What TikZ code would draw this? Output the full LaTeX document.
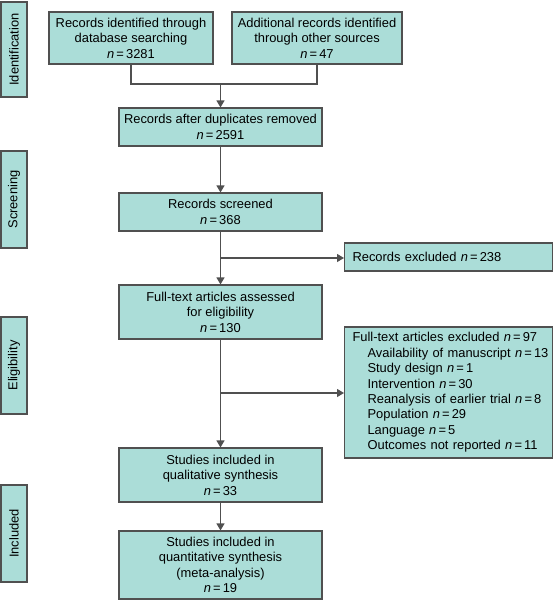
\documentclass[tikz,border=0pt]{standalone}
\usepackage{fontspec}
\setmainfont{Liberation Sans}
\usetikzlibrary{positioning}
\usetikzlibrary{arrows.meta}
\definecolor{boxfill}{RGB}{171,221,216}
\definecolor{boxline}{RGB}{80,80,80}
\newcommand{\ncount}[1]{\textit{n}\,=\,#1}
\begin{document}
\begin{tikzpicture}
	[	x=1pt, y=-1pt,						% 1 px = 1 pt, ось y вниз
		font=\fontsize{12.9}{15.4}\selectfont,
		box/.style={draw=boxline, line width=1.1pt, fill=boxfill, align=center, inner sep=0pt},
		side/.style={box, rotate=90, minimum height=26pt},
		arr/.style={draw=boxline, line width=1.1pt, -{Triangle[length=7pt,width=8pt]}},
		ln/.style={draw=boxline, line width=1.1pt}	]
	\useasboundingbox (0,0) rectangle (553,600);				% поля как у оригинала
	% этапы слева
	\node[side, minimum width=95pt] (sid) at (14,49.5) {Identification};
	\node[side, minimum width=97pt] (sscr) at (14,199.5) {Screening};
	\node[side, minimum width=97pt] (selig) at (14,365.5) {Eligibility};
	\node[side, minimum width=97pt] (sinc) at (14,533.5) {Included};
	% основной столбец
	\node[box, minimum width=164pt, minimum height=52pt] (db) at (131,38)
		{Records identified through\\database searching\\\ncount{3281}};
	\node[box, minimum width=170pt, minimum height=52pt] (other) at (317,38)
		{Additional records identified\\through other sources\\\ncount{47}};
	\node[box, minimum width=203pt, minimum height=38pt] (dup) at (220.5,127)
		{Records after duplicates removed\\\ncount{2591}};
	\node[box, minimum width=203pt, minimum height=38pt] (scr) at (220.5,212)
		{Records screened\\\ncount{368}};
	\node[box, minimum width=203pt, minimum height=54pt] (full) at (220.5,312)
		{Full-text articles assessed\\for eligibility\\\ncount{130}};
	\node[box, minimum width=203pt, minimum height=54pt] (qual) at (220.5,475)
		{Studies included in\\qualitative synthesis\\\ncount{33}};
	\node[box, minimum width=203pt, minimum height=68pt] (quant) at (220.5,565)
		{Studies included in\\quantitative synthesis\\(meta-analysis)\\\ncount{19}};
	% исключённые
	\node[box, minimum width=208pt, minimum height=28pt, align=left, anchor=west, inner xsep=8pt,
		text width=192pt] (exrec) at (344,257) {Records excluded \ncount{238}};
	\node[box, minimum width=208pt, minimum height=131pt, align=left, anchor=west, inner xsep=8pt,
		text width=192pt] (exfull) at (344,392.5)
		{Full-text articles excluded \ncount{97}\\
		\hspace*{15pt}\mbox{Availability of manuscript \ncount{13}}\\
		\hspace*{15pt}Study design \ncount{1}\\
		\hspace*{15pt}Intervention \ncount{30}\\
		\hspace*{15pt}Reanalysis of earlier trial \ncount{8}\\
		\hspace*{15pt}Population \ncount{29}\\
		\hspace*{15pt}Language \ncount{5}\\
		\hspace*{15pt}Outcomes not reported \ncount{11}};
	% связи
	\coordinate (join) at (220.5,84);
	\coordinate (br1) at (220.5,258);
	\coordinate (br2) at (220.5,393);
	\draw[ln] (db.south) |- (join) -| (other.south);
	\draw[arr] (join) -- (dup.north);
	\draw[arr] (dup.south) -- (scr.north);
	\draw[arr] (scr.south) -- (full.north);
	\draw[arr] (br1) -- (br1 -| exrec.west);
	\draw[arr] (full.south) -- (qual.north);
	\draw[arr] (br2) -- (br2 -| exfull.west);
	\draw[arr] (qual.south) -- (quant.north);
\end{tikzpicture}
\end{document}
